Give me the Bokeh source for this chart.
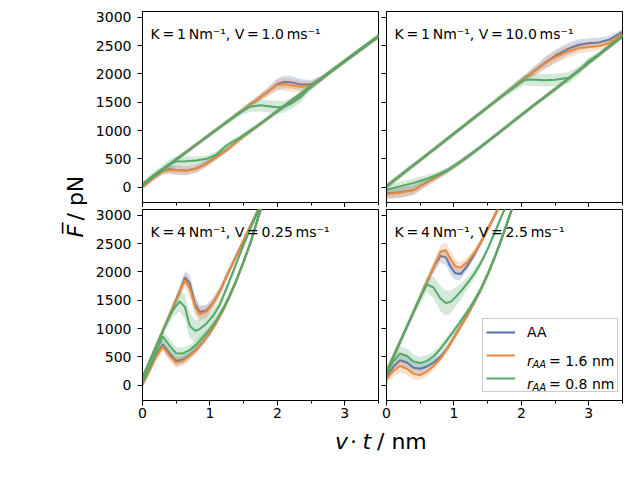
import numpy as np
from bokeh.plotting import figure
from bokeh.models import Range1d, Label, Legend, LegendItem, FixedTicker
from bokeh.layouts import row, column
from bokeh.core.properties import value
from bokeh.embed import file_html
from bokeh.resources import INLINE

# ---------------- data ----------------
SERIES = ["AA", "r16", "r08"]
COLORS = {"AA": "#4C72B0", "r16": "#EE8A3A", "r08": "#55A868"}
TITLES = [
    "K\u2009=\u20091\u2009Nm\u207b\u00b9, V\u2009=\u20091.0\u2009ms\u207b\u00b9",
    "K\u2009=\u20091\u2009Nm\u207b\u00b9, V\u2009=\u200910.0\u2009ms\u207b\u00b9",
    "K\u2009=\u20094\u2009Nm\u207b\u00b9, V\u2009=\u20090.25\u2009ms\u207b\u00b9",
    "K\u2009=\u20094\u2009Nm\u207b\u00b9, V\u2009=\u20092.5\u2009ms\u207b\u00b9",
]
X_TICKS = [0, 1, 2, 3]
X_MINOR = [0.5, 1.5, 2.5, 3.5]
Y_TICKS = [0, 500, 1000, 1500, 2000, 2500, 3000]

# panel 1: K=1, V=1.0
P1_X_UP = [0, 0.3, 0.6, 0.9, 1.2, 1.45, 1.6, 1.75, 1.9, 2.0, 2.1, 2.2, 2.35, 2.5, 2.65, 2.8, 3.0, 3.25, 3.5]
P1_AA_UP = [50, 314, 578, 842, 1106, 1326, 1458, 1590, 1725, 1820, 1855, 1850, 1810, 1810, 1915, 2050, 2225, 2445, 2665]
P1_R16_UP = [50, 314, 578, 842, 1106, 1326, 1458, 1590, 1720, 1805, 1815, 1800, 1770, 1790, 1905, 2050, 2225, 2445, 2665]
P1_R08_UP = [50, 314, 578, 842, 1106, 1320, 1420, 1445, 1425, 1410, 1420, 1470, 1590, 1780, 1910, 2050, 2225, 2445, 2665]
P1_SD_UP = [40, 40, 40, 40, 40, 45, 50, 60, 80, 100, 110, 110, 100, 80, 50, 40, 40, 40, 40]
P1_SD08_UP = [40, 40, 40, 40, 45, 60, 90, 110, 110, 110, 100, 100, 90, 70, 45, 40, 40, 40, 40]
P1_X_LO = [0, 0.15, 0.3, 0.4, 0.5, 0.65, 0.8, 0.95, 1.1, 1.25, 1.45, 1.7, 2.0, 2.3, 2.6, 2.9, 3.2, 3.5]
P1_AA_LO = [10, 160, 290, 315, 305, 295, 330, 420, 540, 660, 855, 1075, 1340, 1605, 1870, 2135, 2400, 2665]
P1_R16_LO = [0, 150, 280, 305, 300, 290, 325, 415, 535, 655, 850, 1072, 1338, 1603, 1868, 2133, 2398, 2662]
P1_R08_LO = [30, 200, 320, 400, 455, 460, 470, 500, 580, 740, 880, 1080, 1342, 1606, 1870, 2135, 2400, 2665]
P1_SD_LO = [40, 50, 60, 70, 80, 80, 70, 60, 50, 45, 40, 40, 40, 40, 40, 40, 40, 40]
P1_SD08_LO = [40, 60, 80, 90, 90, 80, 70, 60, 55, 50, 45, 40, 40, 40, 40, 40, 40, 40]

# panel 2: K=1, V=10.0
P2_X_UP = [0, 0.3, 0.6, 0.9, 1.2, 1.5, 1.8, 2.05, 2.2, 2.35, 2.5, 2.7, 2.85, 3.0, 3.15, 3.3, 3.5]
P2_AA_UP = [15, 294, 573, 852, 1131, 1410, 1689, 1925, 2060, 2195, 2315, 2445, 2510, 2540, 2555, 2600, 2740]
P2_R16_UP = [15, 294, 573, 852, 1131, 1410, 1689, 1920, 2050, 2180, 2290, 2400, 2455, 2475, 2490, 2540, 2705]
P2_R08_UP = [15, 294, 573, 852, 1131, 1410, 1689, 1895, 1895, 1885, 1895, 1930, 2050, 2230, 2345, 2480, 2665]
P2_SD_UP = [50, 45, 40, 40, 40, 40, 45, 60, 80, 100, 110, 110, 100, 90, 80, 70, 50]
P2_SD08_UP = [50, 45, 40, 40, 40, 45, 60, 90, 110, 110, 110, 100, 80, 60, 45, 40, 40]
P2_X_LO = [0, 0.2, 0.4, 0.6, 0.75, 0.9, 1.05, 1.2, 1.4, 1.6, 1.9, 2.2, 2.5, 2.8, 3.1, 3.3, 3.5]
P2_AA_LO = [-110, -90, -50, 90, 185, 290, 410, 535, 715, 900, 1180, 1460, 1730, 2010, 2290, 2480, 2665]
P2_R16_LO = [-120, -100, -55, 90, 185, 290, 410, 535, 715, 900, 1180, 1460, 1730, 2010, 2290, 2480, 2665]
P2_R08_LO = [-45, 15, 75, 150, 215, 295, 410, 535, 715, 900, 1180, 1460, 1730, 2010, 2290, 2480, 2665]
P2_SD_LO = [90, 90, 85, 70, 55, 50, 45, 40, 40, 40, 40, 40, 40, 40, 40, 40, 40]
P2_SD08_LO = [70, 80, 80, 70, 55, 45, 40, 40, 40, 40, 40, 40, 40, 40, 40, 40, 40]

# panel 3: K=4, V=0.25
P3_X_UP = [0, 0.15, 0.3, 0.45, 0.55, 0.63, 0.7, 0.78, 0.85, 0.95, 1.05, 1.15, 1.25, 1.35, 1.45, 1.55, 1.65, 1.75, 1.85]
P3_AA_UP = [130, 545, 955, 1370, 1650, 1900, 1800, 1430, 1290, 1320, 1460, 1665, 1930, 2180, 2430, 2680, 2930, 3180, 3430]
P3_R16_UP = [130, 545, 955, 1370, 1645, 1850, 1720, 1380, 1250, 1300, 1450, 1660, 1930, 2180, 2430, 2680, 2930, 3180, 3430]
P3_R08_UP = [130, 545, 955, 1320, 1480, 1380, 1050, 960, 990, 1090, 1230, 1430, 1720, 2020, 2330, 2620, 2900, 3160, 3420]
P3_SD_UP = [60, 60, 60, 70, 90, 120, 150, 150, 120, 100, 90, 80, 70, 60, 60, 60, 60, 60, 60]
P3_SD08_UP = [60, 60, 70, 120, 180, 220, 220, 200, 180, 150, 120, 100, 80, 70, 60, 60, 60, 60, 60]
P3_X_LO = [0, 0.1, 0.2, 0.3, 0.4, 0.5, 0.6, 0.7, 0.8, 0.9, 1.0, 1.1, 1.2, 1.3, 1.4, 1.5, 1.6, 1.7, 1.8]
P3_AA_LO = [20, 270, 520, 720, 560, 430, 450, 530, 635, 770, 925, 1120, 1340, 1590, 1870, 2180, 2510, 2900, 3280]
P3_R16_LO = [10, 250, 500, 680, 520, 400, 430, 520, 630, 770, 925, 1120, 1340, 1590, 1870, 2180, 2510, 2900, 3280]
P3_R08_LO = [40, 300, 580, 860, 700, 560, 560, 620, 720, 850, 990, 1160, 1360, 1600, 1875, 2180, 2510, 2900, 3280]
P3_SD_LO = [60, 70, 80, 90, 90, 90, 80, 70, 60, 60, 60, 60, 60, 60, 60, 60, 60, 60, 60]
P3_SD08_LO = [60, 70, 90, 110, 120, 110, 100, 90, 80, 70, 60, 60, 60, 60, 60, 60, 60, 60, 60]

# panel 4: K=4, V=2.5
P4_X_UP = [0, 0.15, 0.3, 0.45, 0.6, 0.7, 0.8, 0.88, 0.95, 1.02, 1.1, 1.2, 1.3, 1.4, 1.5, 1.6, 1.7, 1.8]
P4_AA_UP = [230, 628, 1025, 1423, 1820, 2080, 2280, 2260, 2090, 1975, 1960, 2110, 2300, 2520, 2750, 2980, 3220, 3460]
P4_R16_UP = [230, 628, 1025, 1423, 1820, 2085, 2350, 2380, 2230, 2100, 2075, 2180, 2330, 2530, 2750, 2980, 3220, 3460]
P4_R08_UP = [230, 628, 1025, 1420, 1780, 1720, 1530, 1450, 1470, 1550, 1650, 1800, 1960, 2160, 2400, 2680, 2960, 3240]
P4_SD_UP = [80, 70, 60, 60, 70, 90, 120, 140, 140, 120, 100, 80, 70, 60, 60, 60, 60, 60]
P4_SD08_UP = [80, 70, 70, 90, 140, 200, 220, 220, 200, 170, 140, 110, 90, 70, 60, 60, 60, 60]
P4_X_LO = [0, 0.1, 0.2, 0.3, 0.4, 0.5, 0.6, 0.7, 0.8, 0.9, 1.0, 1.1, 1.2, 1.3, 1.4, 1.5, 1.6, 1.7, 1.8, 1.9]
P4_AA_LO = [150, 320, 440, 400, 310, 290, 330, 400, 500, 650, 840, 1040, 1240, 1460, 1690, 1950, 2240, 2560, 2900, 3250]
P4_R16_LO = [110, 250, 340, 290, 200, 180, 240, 340, 470, 640, 840, 1040, 1240, 1460, 1690, 1950, 2240, 2560, 2900, 3250]
P4_R08_LO = [200, 420, 560, 520, 420, 390, 430, 510, 640, 800, 960, 1130, 1300, 1490, 1700, 1960, 2240, 2560, 2900, 3250]
P4_SD_LO = [90, 100, 110, 110, 100, 90, 80, 70, 60, 60, 60, 60, 60, 60, 60, 60, 60, 60, 60, 60]
P4_SD08_LO = [90, 110, 130, 130, 120, 110, 100, 90, 80, 70, 60, 60, 60, 60, 60, 60, 60, 60, 60, 60]


def panel_data(x_up, aa_up, r16_up, r08_up, sd_up, sd08_up, x_lo, aa_lo, r16_lo, r08_lo, sd_lo, sd08_lo):
    return {
        "x_up": x_up, "x_lo": x_lo,
        "up": {"AA": aa_up, "r16": r16_up, "r08": r08_up},
        "lo": {"AA": aa_lo, "r16": r16_lo, "r08": r08_lo},
        "sd_up": {"AA": sd_up, "r16": sd_up, "r08": sd08_up},
        "sd_lo": {"AA": sd_lo, "r16": sd_lo, "r08": sd08_lo},
    }


PANELS = [
    panel_data(P1_X_UP, P1_AA_UP, P1_R16_UP, P1_R08_UP, P1_SD_UP, P1_SD08_UP,
               P1_X_LO, P1_AA_LO, P1_R16_LO, P1_R08_LO, P1_SD_LO, P1_SD08_LO),
    panel_data(P2_X_UP, P2_AA_UP, P2_R16_UP, P2_R08_UP, P2_SD_UP, P2_SD08_UP,
               P2_X_LO, P2_AA_LO, P2_R16_LO, P2_R08_LO, P2_SD_LO, P2_SD08_LO),
    panel_data(P3_X_UP, P3_AA_UP, P3_R16_UP, P3_R08_UP, P3_SD_UP, P3_SD08_UP,
               P3_X_LO, P3_AA_LO, P3_R16_LO, P3_R08_LO, P3_SD_LO, P3_SD08_LO),
    panel_data(P4_X_UP, P4_AA_UP, P4_R16_UP, P4_R08_UP, P4_SD_UP, P4_SD08_UP,
               P4_X_LO, P4_AA_LO, P4_R16_LO, P4_R08_LO, P4_SD_LO, P4_SD08_LO),
]

FONT = "DejaVu Sans"
FRAME_W, FRAME_H = 236, 191
Y_MIN, Y_MAX = -270, 3100


def style_axis(ax, show, standoff):
    ax.axis_line_color = "black"
    ax.axis_line_width = 1
    ax.major_tick_line_color = "black"
    ax.minor_tick_line_color = "black"
    ax.major_tick_in = 0
    ax.major_tick_out = 5
    ax.minor_tick_in = 0
    ax.minor_tick_out = 3
    ax.major_label_text_font = FONT
    if show:
        ax.major_label_text_color = "black"
        ax.major_label_text_font_size = "14px"
        ax.major_label_standoff = standoff
    else:
        ax.major_label_text_color = None
        ax.major_label_text_font_size = "1px"
        ax.major_label_standoff = 0


def make_panel(idx, show_x, show_y, borders):
    d = PANELS[idx]
    p = figure(frame_width=FRAME_W, frame_height=FRAME_H,
               x_range=Range1d(0, 3.5), y_range=Range1d(Y_MIN, Y_MAX),
               output_backend="svg", toolbar_location=None, tools="",
               min_border_left=borders[0], min_border_right=borders[1],
               min_border_top=borders[2], min_border_bottom=borders[3],
               background_fill_color="white", border_fill_color="white")
    p.xgrid.visible = False
    p.ygrid.visible = False
    p.outline_line_color = "black"
    p.outline_line_width = 1
    p.outline_line_alpha = 1
    p.xaxis.ticker = FixedTicker(ticks=X_TICKS, minor_ticks=X_MINOR)
    p.yaxis.ticker = FixedTicker(ticks=Y_TICKS, minor_ticks=[])
    style_axis(p.xaxis[0], show_x, 2)
    style_axis(p.yaxis[0], show_y, 6)

    renderers = {}
    for s in SERIES:
        c = COLORS[s]
        for branch, xkey, sdkey in (("up", "x_up", "sd_up"), ("lo", "x_lo", "sd_lo")):
            x = np.array(d[xkey], dtype=float)
            y = np.array(d[branch][s], dtype=float)
            sd = np.array(d[sdkey][s], dtype=float)
            p.varea(x=x, y1=y - sd, y2=y + sd, fill_color=c, fill_alpha=0.25)
        for branch, xkey in (("up", "x_up"), ("lo", "x_lo")):
            r = p.line(d[xkey], d[branch][s], line_color=c, line_width=2)
            if branch == "up":
                renderers[s] = r

    p.add_layout(Label(x=8, y=FRAME_H - 22.5, x_units="screen", y_units="screen",
                       text=TITLES[idx], text_font=FONT, text_font_size="14px",
                       text_color="black", text_baseline="alphabetic", text_align="left"))
    return p, renderers


tl, _ = make_panel(0, False, True, (54, 3, 11, 5))
tr, _ = make_panel(1, False, False, (5, 10, 11, 5))
bl, _ = make_panel(2, True, True, (54, 3, 2, 26))
br, rends = make_panel(3, True, False, (5, 10, 2, 26))

# legend (labels with subscripts are drawn as separate text pieces on top)
legend = Legend(items=[
    LegendItem(label=value("AA"), renderers=[rends["AA"]]),
    LegendItem(label=value(" "), renderers=[rends["r16"]]),
    LegendItem(label=value(" "), renderers=[rends["r08"]]),
], location=(96, 8), padding=3, spacing=3, margin=0,
    glyph_width=29, glyph_height=20, label_height=20, label_width=87, label_standoff=12,
    label_text_font=FONT, label_text_font_size="14px", label_text_color="black",
    border_line_color="#cccccc", border_line_width=1, border_line_alpha=1,
    background_fill_color=None)
br.add_layout(legend)

for val, ybase in (("1.6", 40), ("0.8", 17)):
    br.add_layout(Label(x=140.5, y=ybase, x_units="screen", y_units="screen", text="r",
                        text_font=FONT, text_font_size="14px", text_font_style="italic",
                        text_baseline="alphabetic", text_color="black"))
    br.add_layout(Label(x=146, y=ybase - 3.5, x_units="screen", y_units="screen", text="AA",
                        text_font=FONT, text_font_size="10px", text_font_style="italic",
                        text_baseline="alphabetic", text_color="black"))
    br.add_layout(Label(x=162.5, y=ybase, x_units="screen", y_units="screen", text="= " + val + " nm",
                        text_font=FONT, text_font_size="14px",
                        text_baseline="alphabetic", text_color="black"))


def blank_fig(w, h):
    f = figure(width=w, height=h, x_range=Range1d(0, 1), y_range=Range1d(0, 1),
               output_backend="svg", toolbar_location=None, tools="",
               x_axis_location=None, y_axis_location=None,
               min_border_left=0, min_border_right=0, min_border_top=0, min_border_bottom=0,
               background_fill_color="white", border_fill_color="white")
    f.outline_line_color = None
    f.xgrid.visible = False
    f.ygrid.visible = False
    return f


YLAB_W = 88
RIGHT_W = (54 + FRAME_W + 3) + (5 + FRAME_W + 10)
XLAB_H = 44
TOTAL_H = (11 + FRAME_H + 5) + (2 + FRAME_H + 26) + XLAB_H

xlab = blank_fig(RIGHT_W, XLAB_H)
for txt, xx, style in (("v", 246.5, "italic"), ("\u00b7", 261.5, "normal"),
                       ("t", 274, "italic"), ("/ nm", 288.5, "normal")):
    xlab.add_layout(Label(x=xx, y=XLAB_H - 15.2, x_units="screen", y_units="screen", text=txt,
                          text_font=FONT, text_font_size="22px", text_font_style=style,
                          text_baseline="middle", text_align="left", text_color="black"))

# rotated y label: text tops toward the left, baseline at about x = 79
ylab = blank_fig(YLAB_W, TOTAL_H)
ylab.add_layout(Label(x=62, y=TOTAL_H - 237, x_units="screen", y_units="screen", text="F\u0305",
                      angle=np.pi / 2, text_font=FONT, text_font_size="22px",
                      text_font_style="italic", text_baseline="top", text_align="left",
                      text_color="black"))
ylab.add_layout(Label(x=62, y=TOTAL_H - 220, x_units="screen", y_units="screen", text="/ pN",
                      angle=np.pi / 2, text_font=FONT, text_font_size="22px",
                      text_baseline="top", text_align="left", text_color="black"))

layout = row(ylab, column(row(tl, tr), row(bl, br), xlab))

open("out.html", "w").write(file_html(layout, INLINE))
